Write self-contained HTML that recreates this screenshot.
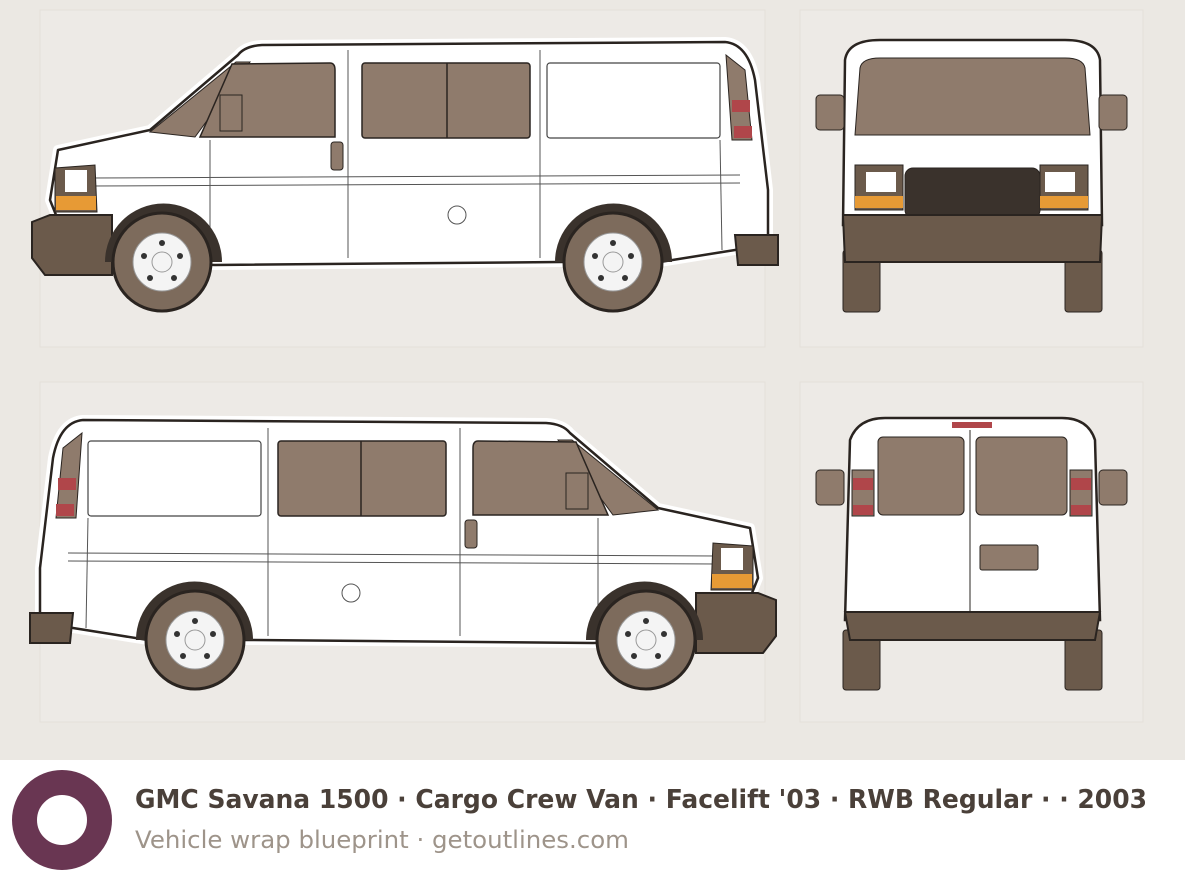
<!DOCTYPE html>
<html><head><meta charset="utf-8"><style>
html,body{margin:0;padding:0;background:#fff}
svg{display:block}
</style></head><body>
<svg width="1185" height="880" viewBox="0 0 1185 880" xmlns="http://www.w3.org/2000/svg">
<rect width="1185" height="760" fill="#ebe8e3"/>
<g fill="#edeae6" stroke="#e4e0da">
<rect x="40" y="10" width="725" height="337"/>
<rect x="800" y="10" width="343" height="337"/>
<rect x="40" y="382" width="725" height="340"/>
<rect x="800" y="382" width="343" height="340"/>
</g>
<defs>
<g id="side">
<!-- body -->
<path d="M58,150 L150,130 L238,55 Q245,46 262,45 L725,42 Q748,44 755,80 L768,190 L768,238 L735,250 L660,262 L560,262 L215,265 L115,262 L70,250 L50,200 Z" fill="#fff" stroke="#fff" stroke-width="10" stroke-linejoin="round"/>
<path d="M58,150 L150,130 L238,55 Q245,46 262,45 L725,42 Q748,44 755,80 L768,190 L768,238 L735,250 L660,262 L560,262 L215,265 L115,262 L70,250 L50,200 Z" fill="#fff" stroke="#2a2420" stroke-width="2.5" stroke-linejoin="round"/>
<!-- windshield -->
<path d="M150,132 L236,62 L250,62 L195,137 Z" fill="#8f7b6c" stroke="#2a2420"/>
<!-- windows -->
<path d="M232,64 L330,63 Q335,63 335,70 L335,137 L200,137 Z" fill="#8f7b6c" stroke="#2a2420" stroke-width="1.5"/>
<rect x="362" y="63" width="168" height="75" rx="3" fill="#8f7b6c" stroke="#2a2420" stroke-width="1.5"/>
<line x1="447" y1="63" x2="447" y2="138" stroke="#2a2420" stroke-width="1.5"/>
<rect x="547" y="63" width="173" height="75" rx="3" fill="#fff" stroke="#444" stroke-width="1.2"/>
<rect x="220" y="95" width="22" height="36" fill="#8f7b6c" stroke="#2a2420"/>
<!-- tail light -->
<path d="M726,55 L745,70 L752,140 L732,140 Z" fill="#8f7b6c" stroke="#2a2420"/>
<rect x="732" y="100" width="18" height="12" fill="#b0464a"/>
<rect x="734" y="126" width="18" height="12" fill="#b0464a"/>
<!-- lines -->
<g stroke="#555" stroke-width="1" fill="none">
<line x1="210" y1="140" x2="210" y2="258"/>
<line x1="348" y1="50" x2="348" y2="258"/>
<line x1="540" y1="50" x2="540" y2="258"/>
<line x1="90" y1="178" x2="740" y2="175"/>
<line x1="90" y1="186" x2="740" y2="183"/>
<line x1="720" y1="140" x2="722" y2="250"/>
</g>
<rect x="331" y="142" width="12" height="28" rx="3" fill="#8f7b6c" stroke="#2a2420"/>
<circle cx="457" cy="215" r="9" fill="#fff" stroke="#555"/>
<!-- headlight -->
<path d="M55,168 L95,165 L97,212 L55,212 Z" fill="#6b5a4b" stroke="#2a2420"/>
<rect x="65" y="170" width="22" height="22" fill="#fff"/>
<rect x="56" y="196" width="40" height="14" fill="#e79a35"/>
<!-- bumpers -->
<path d="M32,222 L50,215 L112,215 L112,275 L45,275 L32,258 Z" fill="#6b5a4b" stroke="#2a2420" stroke-width="2"/>
<path d="M735,235 L778,235 L778,265 L738,265 Z" fill="#6b5a4b" stroke="#2a2420" stroke-width="2"/>
<!-- wheel arches -->
<path d="M105,262 A58,58 0 0 1 222,262 Z" fill="#3a322c"/>
<path d="M555,262 A58,58 0 0 1 672,262 Z" fill="#3a322c"/>
<!-- wheels -->
<g>
<circle cx="162" cy="262" r="49" fill="#7d6b5c" stroke="#2a2420" stroke-width="3"/>
<circle cx="162" cy="262" r="29" fill="#f4f4f4" stroke="#999"/>
<circle cx="162" cy="262" r="10" fill="none" stroke="#999"/>
<circle cx="613" cy="262" r="49" fill="#7d6b5c" stroke="#2a2420" stroke-width="3"/>
<circle cx="613" cy="262" r="29" fill="#f4f4f4" stroke="#999"/>
<circle cx="613" cy="262" r="10" fill="none" stroke="#999"/>
</g>
<g fill="#333">
<circle cx="162" cy="243" r="3"/><circle cx="180" cy="256" r="3"/><circle cx="174" cy="278" r="3"/><circle cx="150" cy="278" r="3"/><circle cx="144" cy="256" r="3"/>
<circle cx="613" cy="243" r="3"/><circle cx="631" cy="256" r="3"/><circle cx="625" cy="278" r="3"/><circle cx="601" cy="278" r="3"/><circle cx="595" cy="256" r="3"/>
</g>
</g>
</defs>
<use href="#side"/>
<use href="#side" transform="translate(808,378) scale(-1,1)"/>
<!-- front view -->
<g stroke="#2a2420">
<rect x="843" y="250" width="37" height="62" rx="3" fill="#6b5a4b"/>
<rect x="1065" y="250" width="37" height="62" rx="3" fill="#6b5a4b"/>
<path d="M845,60 Q848,40 880,40 L1065,40 Q1097,40 1100,60 L1102,225 L843,225 Z" fill="#fff" stroke-width="2.5"/>
<path d="M855,135 L860,68 Q862,58 880,58 L1065,58 Q1083,58 1085,68 L1090,135 Z" fill="#8f7b6c"/>
<rect x="816" y="95" width="28" height="35" rx="4" fill="#8f7b6c"/>
<rect x="1099" y="95" width="28" height="35" rx="4" fill="#8f7b6c"/>
<rect x="905" y="168" width="135" height="50" rx="8" fill="#3a322c"/>
<rect x="855" y="165" width="48" height="45" fill="#6b5a4b"/>
<rect x="1040" y="165" width="48" height="45" fill="#6b5a4b"/>
<rect x="866" y="172" width="30" height="20" fill="#fff" stroke="none"/>
<rect x="1045" y="172" width="30" height="20" fill="#fff" stroke="none"/>
<rect x="855" y="196" width="48" height="12" fill="#e79a35" stroke="none"/>
<rect x="1040" y="196" width="48" height="12" fill="#e79a35" stroke="none"/>
<path d="M843,215 L1102,215 L1100,262 L845,262 Z" fill="#6b5a4b" stroke-width="2"/>
</g>
<!-- rear view -->
<g stroke="#2a2420">
<rect x="843" y="630" width="37" height="60" rx="3" fill="#6b5a4b"/>
<rect x="1065" y="630" width="37" height="60" rx="3" fill="#6b5a4b"/>
<path d="M850,440 Q858,418 885,418 L1062,418 Q1088,418 1095,440 L1100,620 L845,620 Z" fill="#fff" stroke-width="2.5"/>
<rect x="952" y="422" width="40" height="6" fill="#b0464a" stroke="none"/>
<rect x="878" y="437" width="86" height="78" rx="5" fill="#8f7b6c"/>
<rect x="976" y="437" width="91" height="78" rx="5" fill="#8f7b6c"/>
<line x1="970" y1="430" x2="970" y2="612"/>
<rect x="852" y="470" width="22" height="46" fill="#8f7b6c"/>
<rect x="1070" y="470" width="22" height="46" fill="#8f7b6c"/>
<rect x="853" y="478" width="20" height="12" fill="#b0464a" stroke="none"/>
<rect x="1071" y="478" width="20" height="12" fill="#b0464a" stroke="none"/>
<rect x="853" y="505" width="20" height="10" fill="#b0464a" stroke="none"/>
<rect x="1071" y="505" width="20" height="10" fill="#b0464a" stroke="none"/>
<rect x="816" y="470" width="28" height="35" rx="4" fill="#8f7b6c"/>
<rect x="1099" y="470" width="28" height="35" rx="4" fill="#8f7b6c"/>
<rect x="980" y="545" width="58" height="25" rx="2" fill="#8f7b6c"/>
<path d="M845,612 L1100,612 L1095,640 L850,640 Z" fill="#6b5a4b" stroke-width="2"/>
</g>
<!-- footer -->
<rect x="0" y="760" width="1185" height="120" fill="#fff"/>
<circle cx="62" cy="820" r="37.5" fill="none" stroke="#693652" stroke-width="25"/>
<text x="135" y="808" textLength="1012" lengthAdjust="spacingAndGlyphs" font-family="DejaVu Sans, sans-serif" font-weight="bold" font-size="26" fill="#4a4039">GMC Savana 1500 · Cargo Crew Van · Facelift '03 · RWB Regular · · 2003</text>
<text x="135" y="848" textLength="494" lengthAdjust="spacingAndGlyphs" font-family="DejaVu Sans, sans-serif" font-size="24" fill="#9e948a">Vehicle wrap blueprint · getoutlines.com</text>
</svg>
</body></html>
